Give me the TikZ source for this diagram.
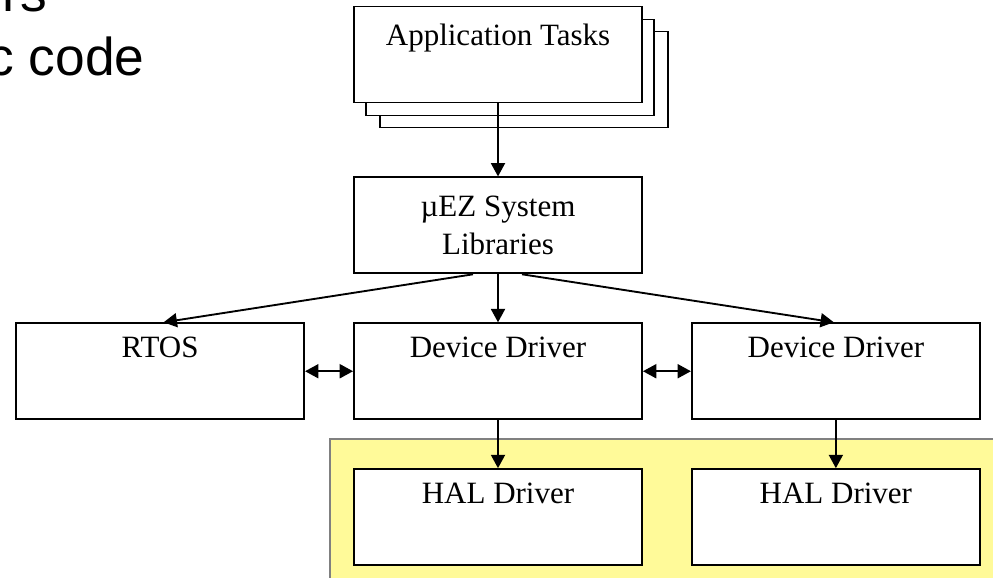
\documentclass[tikz,border=0pt]{standalone}
\usepackage{fontspec}
\setmainfont{Liberation Serif}
\newfontfamily\slidefont{Liberation Sans}
\usetikzlibrary{arrows.meta,positioning}

\begin{document}
\begin{tikzpicture}[
    x=0.75pt,y=-0.75pt,
    font=\fontsize{23.25}{28}\selectfont,
    box/.style={draw,line width=1.4pt,fill=white,minimum width=216pt,minimum height=72pt,
                inner sep=0pt,align=center},
    >={Triangle[length=10pt,width=10.5pt]},
    arr/.style={->,line width=1.4pt},
    darr/.style={<->,line width=1.4pt}
  ]
  \useasboundingbox (0,0) rectangle (993,578);
  \clip (0,0) rectangle (993,578);

  % cut-off slide text at the top left
  \node[font=\slidefont\fontsize{40}{48}\selectfont,anchor=base west,inner sep=0pt] (hdr1) at (-27,12) {ers};
  \node[font=\slidefont\fontsize{40}{48}\selectfont,anchor=base west,inner sep=0pt] (hdr2) at (-13,75) {c code};

  % yellow HAL area
  \fill[yellow!40] (330,439) rectangle (1000,590);
  \draw[gray,line width=1.5pt] (330,590) |- (1000,439);

  % stacked application tasks
  \coordinate (apptop) at (498,54.5);
  \node[box] (appC) at ([shift={(26,25)}]apptop) {};
  \node[box] (appB) at ([shift={(12,13)}]apptop) {};
  \node[box] (app) at (apptop) {Application Tasks\\[-7pt] \strut};

  \node[box,below=54.75pt of app]  (lib)  {µEZ System\\Libraries};
  \node[box,below=36pt of lib]     (dev1) {Device Driver\\ \strut};
  \node[box,left=36pt of dev1]     (rtos) {RTOS\\ \strut};
  \node[box,right=36pt of dev1]    (dev2) {Device Driver\\ \strut};
  \node[box,below=36pt of dev1]    (hal1) {HAL Driver\\ \strut};
  \node[box,below=36pt of dev2]    (hal2) {HAL Driver\\ \strut};

  \draw[arr] (app) -- (lib);
  \draw[arr] (lib) -- (dev1);
  \draw[arr] ([xshift=-18.75pt]lib.south) -- ([xshift=2.6pt]rtos.north);
  \draw[arr] ([xshift=18pt]lib.south) -- ([xshift=-1.5pt]dev2.north);
  \draw[darr] (rtos) -- (dev1);
  \draw[darr] (dev1) -- (dev2);
  \draw[arr] (dev1) -- (hal1);
  \draw[arr] (dev2) -- (hal2);
\end{tikzpicture}
\end{document}
